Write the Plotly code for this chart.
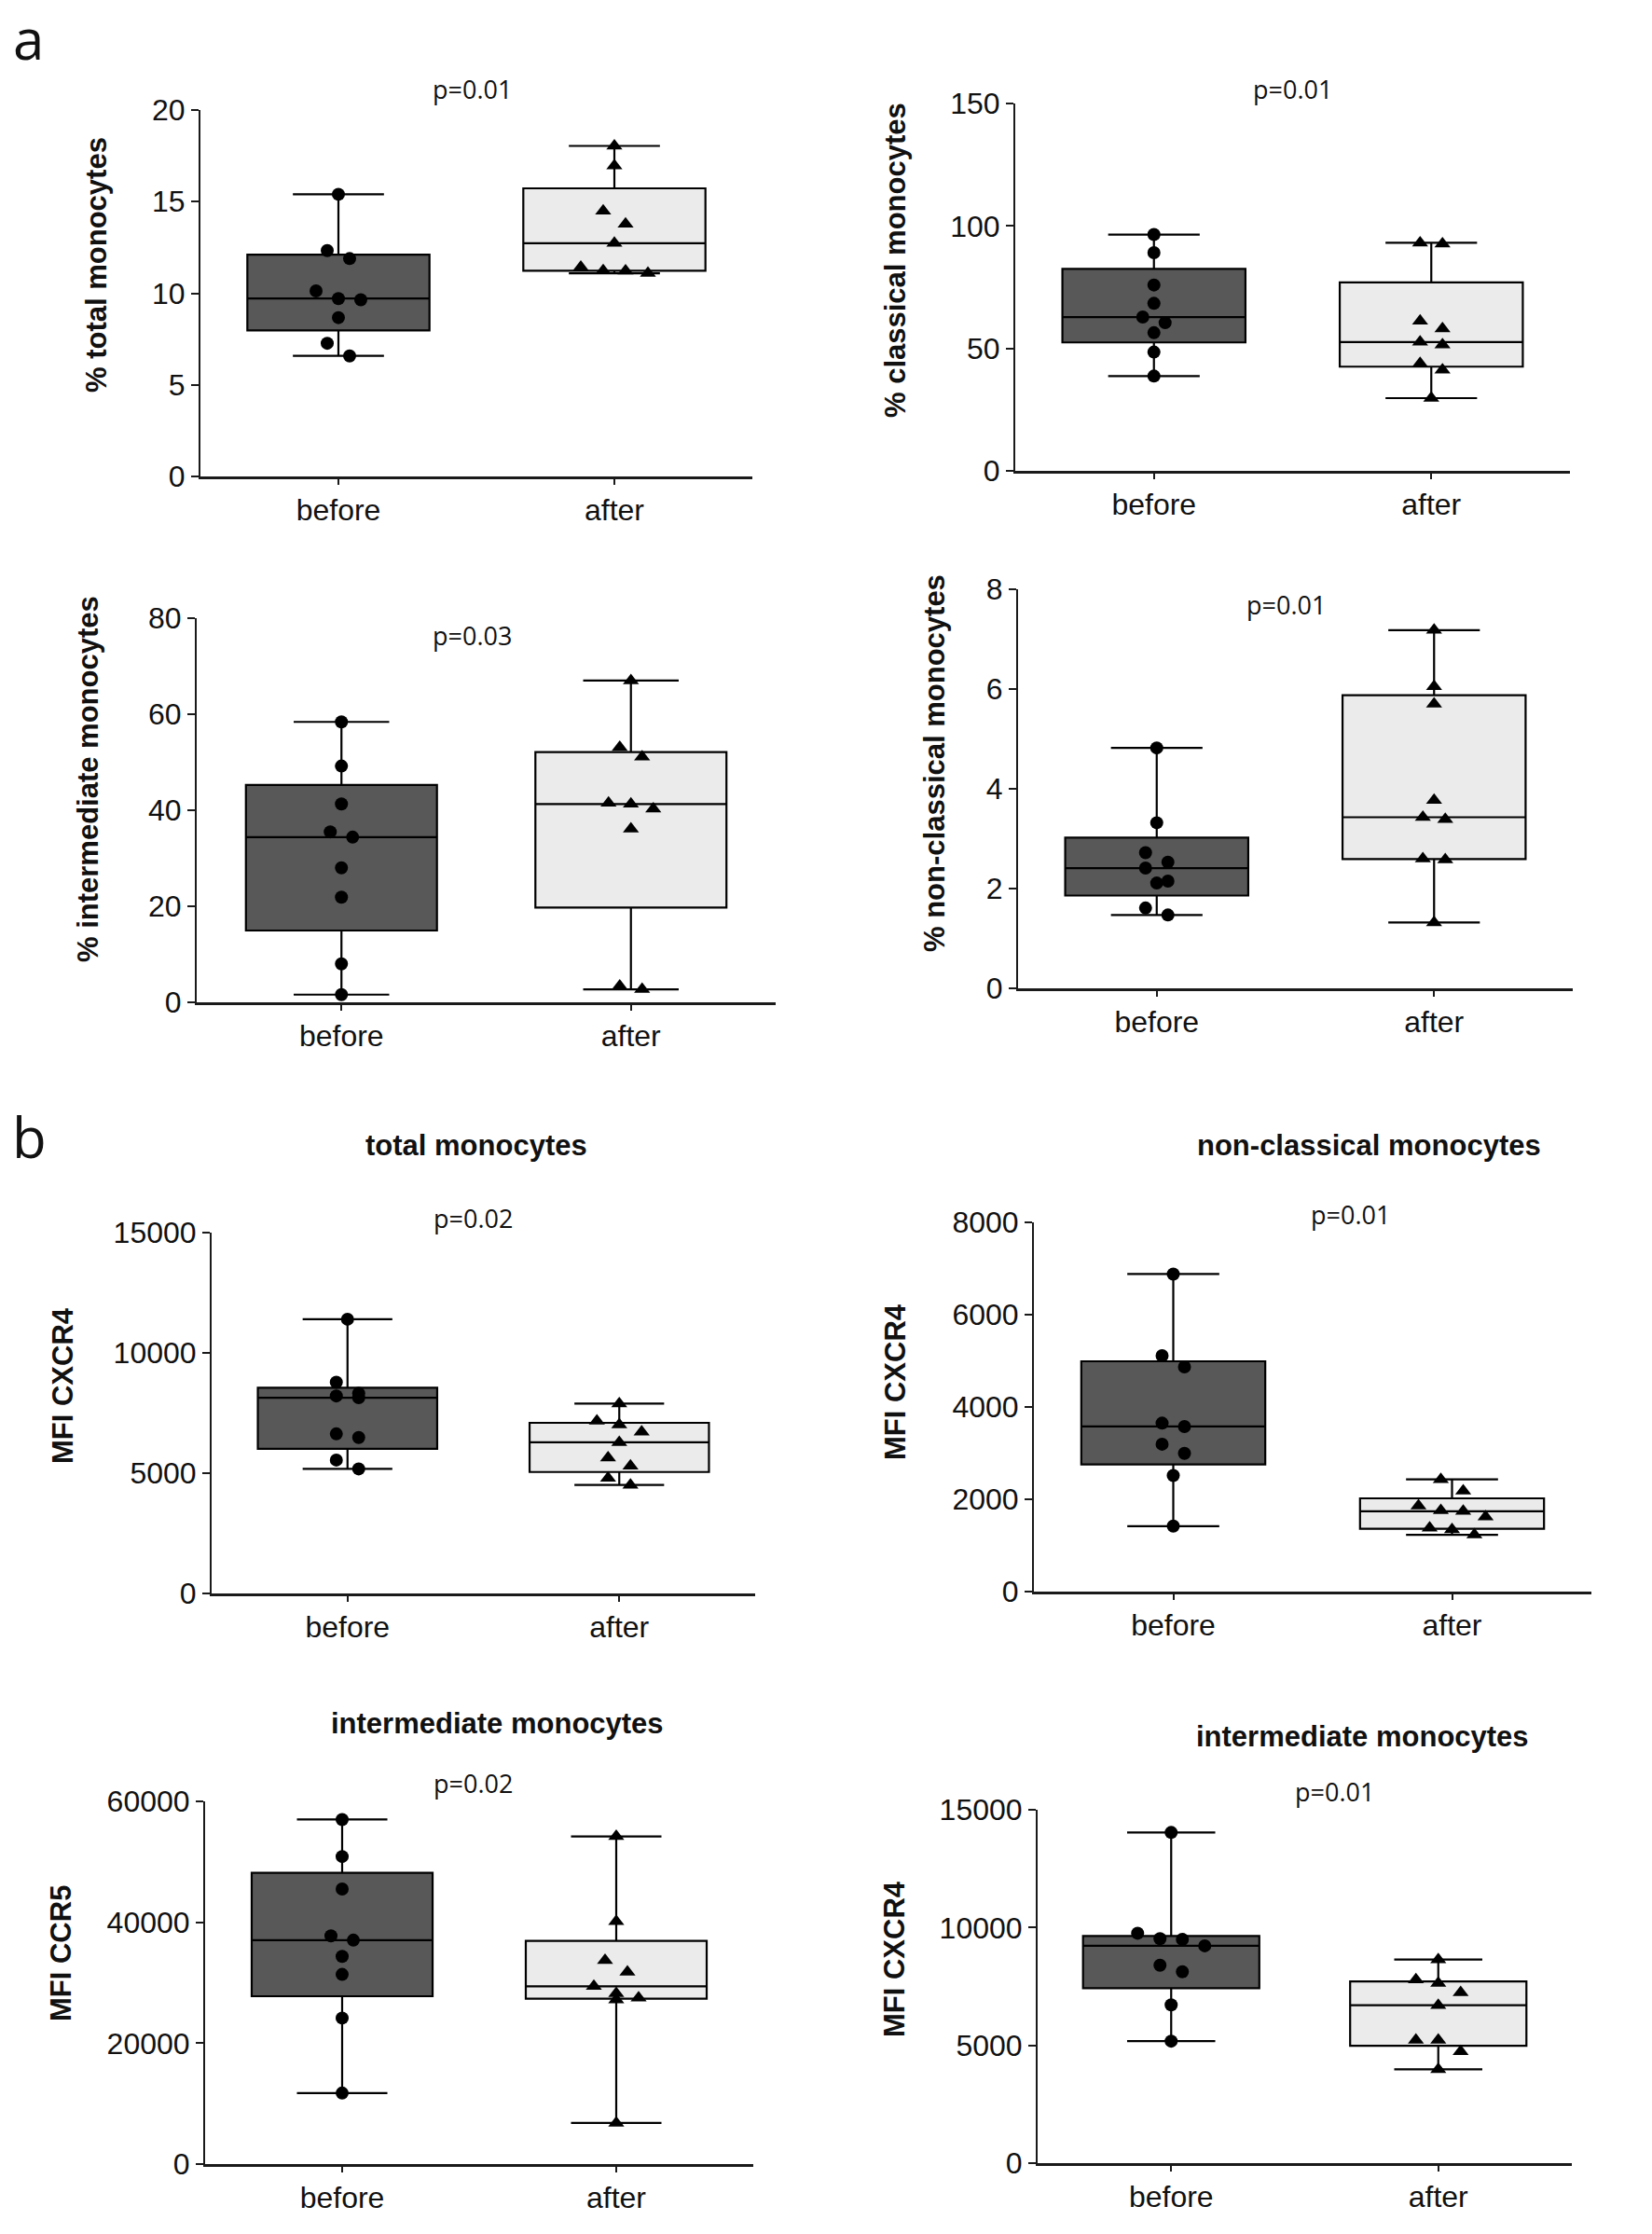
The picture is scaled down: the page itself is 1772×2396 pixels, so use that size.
import numpy as np
import plotly.graph_objects as go

W, H = 1772, 2396

categories = ["before", "after"]

total_pct_before = [15.4, 12.33, 11.89, 10.13, 9.71, 9.64, 8.67, 7.27, 6.58]
total_pct_after = [18.04, 16.96, 14.49, 13.78, 12.73, 11.42, 11.24, 11.22, 11.09]
classical_pct_before = [96.5, 89.1, 75.9, 68.4, 62.8, 60.5, 56.4, 48.5, 38.7]
classical_pct_after = [93.1, 92.7, 61.2, 58.1, 52.6, 51.5, 43.9, 41.2, 29.7]
intermediate_pct_before = [58.4, 49.2, 41.3, 35.5, 34.4, 28.0, 21.9, 8.0, 1.6]
intermediate_pct_after = [67.0, 53.1, 51.1, 41.5, 41.3, 40.3, 36.1, 3.4, 2.7]
nonclassical_pct_before = [4.82, 3.32, 2.72, 2.53, 2.41, 2.15, 2.11, 1.61, 1.47]
nonclassical_pct_after = [7.18, 6.05, 5.70, 3.77, 3.43, 3.39, 2.60, 2.58, 1.32]
cxcr4_total_before = [11400, 8779, 8319, 8212, 8135, 6634, 6481, 5546, 5179]
cxcr4_total_after = [7890, 7170, 7017, 6711, 6282, 5638, 5301, 4795, 4510]
cxcr4_nonclassical_before = [6880, 5110, 4870, 3649, 3577, 3194, 2994, 2515, 1418]
cxcr4_nonclassical_after = [2430, 2180, 1860, 1756, 1741, 1621, 1381, 1341, 1230]
ccr5_intermediate_before = [57000, 50874, 45507, 37754, 37038, 34354, 31371, 24155, 11749]
ccr5_intermediate_after = [54200, 40138, 33697, 31789, 29403, 28210, 27495, 27197, 6800]
cxcr4_intermediate_before = [14037, 9760, 9531, 9501, 9226, 8401, 8126, 6721, 5178]
cxcr4_intermediate_after = [8640, 7790, 7637, 7240, 6700, 5224, 5224, 4735, 3980]

p_values = ["p=0.01", "p=0.01", "p=0.03", "p=0.01", "p=0.02", "p=0.01", "p=0.02", "p=0.01"]
y_titles = ["% total monocytes", "% classical monocytes", "% intermediate monocytes",
            "% non-classical monocytes", "MFI CXCR4", "MFI CXCR4", "MFI CCR5", "MFI CXCR4"]
panel_titles = [None, None, None, None, "total monocytes", "non-classical monocytes",
                "intermediate monocytes", "intermediate monocytes"]
y_max = [20, 150, 80, 8, 15000, 8000, 60000, 15000]
y_dtick = [5, 50, 20, 2, 5000, 2000, 20000, 5000]

series = [
    (total_pct_before, total_pct_after),
    (classical_pct_before, classical_pct_after),
    (intermediate_pct_before, intermediate_pct_after),
    (nonclassical_pct_before, nonclassical_pct_after),
    (cxcr4_total_before, cxcr4_total_after),
    (cxcr4_nonclassical_before, cxcr4_nonclassical_after),
    (ccr5_intermediate_before, ccr5_intermediate_after),
    (cxcr4_intermediate_before, cxcr4_intermediate_after),
]

# layout (pixels): plot area x0, x1, y_top, y_bottom
domains = [
    (215, 807, 118, 511),
    (1089, 1684, 111, 505),
    (211, 832, 663, 1075),
    (1092, 1687, 632, 1060),
    (227, 810, 1322, 1709),
    (1109, 1707, 1311, 1707),
    (220, 808, 1932, 2321),
    (1113, 1686, 1941, 2320),
]
ytitle_pos = [(104, 284), (961, 279), (95, 836), (1003, 818),
              (67, 1486), (960, 1482), (65, 2095), (959, 2101)]
p_pos = [(506, 96), (1386, 96), (506, 682), (1379, 648),
         (507, 1306), (1448, 1302), (507, 1912), (1431, 1921)]
title_pos = [None, None, None, None, (511, 1229), (1468, 1229), (533, 1848), (1461, 1862)]

BOX_FILL = ["#585858", "#ebebeb"]
SYMBOLS = ["circle", "triangle-up"]
SIZES = [14, 15]
AXIS_COLOR = "#1a1a1a"
TICK_FONT = dict(family="Liberation Sans, Arial, sans-serif", size=32, color="#111111")
P_FONT = dict(family="Open Sans, sans-serif", size=27, color="#111111")
BOLD_FONT = dict(family="Liberation Sans, Arial, sans-serif", size=31, color="#111111")


def median(a):
    a = np.sort(np.asarray(a, float))
    n = len(a)
    return a[n // 2] if n % 2 else 0.5 * (a[n // 2 - 1] + a[n // 2])


def box_stats(vals):
    a = np.sort(np.asarray(vals, float))
    n = len(a)
    lower = a[: n // 2]
    upper = a[(n + 1) // 2:]
    return dict(q1=median(lower), med=median(a), q3=median(upper), lo=a[0], hi=a[-1])


def swarm_offsets(vals, px_per_unit_y, px_per_unit_x, step_px=24.0, thr_px=14.0):
    v = np.asarray(vals, float)
    order = np.argsort(-v, kind="stable")
    rows, cur, start = [], [], None
    for i in order:
        if cur and (v[start] - v[i]) * px_per_unit_y < thr_px:
            cur.append(i)
        else:
            if cur:
                rows.append(cur)
            cur, start = [i], i
    rows.append(cur)
    off = np.zeros(len(v))
    for r in rows:
        k = len(r)
        for j, i in enumerate(r):
            off[i] = (j - (k - 1) / 2.0) * step_px
    return off / px_per_unit_x


fig = go.Figure()
annotations = []

for k in range(8):
    ax = "" if k == 0 else str(k + 1)
    xref, yref = "x" + ax, "y" + ax
    x0, x1, yt, yb = domains[k]
    px_x = (x1 - x0) / 2.0
    px_y = (yb - yt) / y_max[k]
    for c in range(2):
        vals = series[k][c]
        s = box_stats(vals)
        fig.add_trace(go.Box(
            x=[c], q1=[s["q1"]], median=[s["med"]], q3=[s["q3"]],
            lowerfence=[s["lo"]], upperfence=[s["hi"]],
            width=0.66, whiskerwidth=0.5, boxpoints=False,
            fillcolor=BOX_FILL[c], line=dict(color="black", width=2.2),
            hoverinfo="skip", xaxis=xref, yaxis=yref,
        ))
        offs = swarm_offsets(vals, px_y, px_x)
        fig.add_trace(go.Scatter(
            x=[c + o for o in offs], y=vals, mode="markers",
            marker=dict(symbol=SYMBOLS[c], size=SIZES[c], color="black", line=dict(width=0)),
            cliponaxis=False, hoverinfo="skip", xaxis=xref, yaxis=yref,
        ))

    fig.update_layout(**{
        "xaxis" + ax: dict(
            domain=[x0 / W, x1 / W], anchor=yref, range=[-0.5, 1.5],
            tickvals=[0, 1], ticktext=categories, tickfont=TICK_FONT,
            showline=True, linecolor=AXIS_COLOR, linewidth=2.5,
            ticks="outside", ticklen=6, tickwidth=2, tickcolor=AXIS_COLOR,
            showgrid=False, zeroline=False, ticklabelstandoff=0, automargin=False,
        ),
        "yaxis" + ax: dict(
            domain=[1 - yb / H, 1 - yt / H], anchor=xref, range=[0, y_max[k]],
            tick0=0, dtick=y_dtick[k], tickformat="d", tickfont=TICK_FONT,
            showline=True, linecolor=AXIS_COLOR, linewidth=2,
            ticks="outside", ticklen=8, tickwidth=2, tickcolor=AXIS_COLOR,
            showgrid=False, zeroline=False, ticklabelstandoff=0, automargin=False,
        ),
    })

    tx, ty = ytitle_pos[k]
    annotations.append(dict(
        x=tx / W, y=1 - ty / H, xref="paper", yref="paper", text="<b>" + y_titles[k] + "</b>",
        textangle=-90, showarrow=False, xanchor="center", yanchor="middle", font=BOLD_FONT,
    ))
    px_, py_ = p_pos[k]
    annotations.append(dict(
        x=px_ / W, y=1 - py_ / H, xref="paper", yref="paper", text=p_values[k],
        showarrow=False, xanchor="center", yanchor="middle", font=P_FONT,
    ))
    if panel_titles[k]:
        qx, qy = title_pos[k]
        annotations.append(dict(
            x=qx / W, y=1 - qy / H, xref="paper", yref="paper", text="<b>" + panel_titles[k] + "</b>",
            showarrow=False, xanchor="center", yanchor="middle", font=BOLD_FONT,
        ))

for letter, (lx, ly) in [("a", (30, 41)), ("b", (32, 1219))]:
    annotations.append(dict(
        x=lx / W, y=1 - ly / H, xref="paper", yref="paper", text=letter, showarrow=False,
        xanchor="center", yanchor="middle",
        font=dict(family="Open Sans, sans-serif", size=60, color="#111111"),
    ))

fig.update_layout(
    width=W, height=H, margin=dict(l=0, r=0, t=0, b=0, pad=0, autoexpand=False),
    paper_bgcolor="white", plot_bgcolor="white", showlegend=False,
    annotations=annotations,
)

fig.write_html(
    "out.html",
    config={"displayModeBar": False, "staticPlot": True},
    post_script="document.body.style.margin='0px';document.body.style.padding='0px';",
)
